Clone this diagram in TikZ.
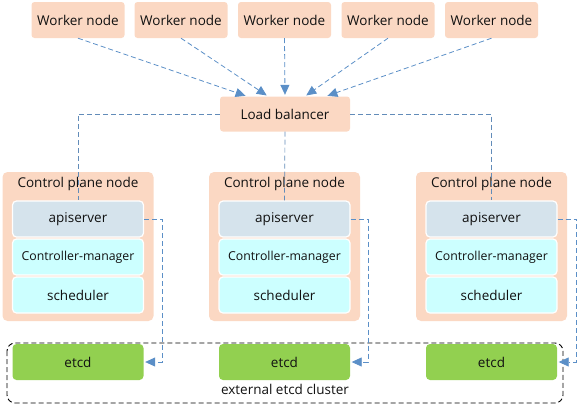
\documentclass[tikz,border=0pt]{standalone}
\usepackage{fontspec}
\setmainfont{Open Sans}
\usetikzlibrary{arrows.meta}
\definecolor{peach}{HTML}{FBD8C3}
\definecolor{apibg}{HTML}{D5E3EC}
\definecolor{cyanbg}{HTML}{CCFFFF}
\definecolor{etcdgreen}{HTML}{92D050}
\definecolor{linkblue}{HTML}{5B8FC7}
\definecolor{txt}{HTML}{111111}
\tikzset{
  worker/.style={fill=peach, rounded corners=3pt, minimum width=93pt, minimum height=36pt, font=\fontsize{13.5}{15}\selectfont, text=txt, inner sep=0pt},
  cpbox/.style={fill=peach, rounded corners=5pt, minimum width=151pt, minimum height=149pt, inner sep=0pt},
  inner/.style={draw=white, line width=1.2pt, rounded corners=4pt, minimum width=131pt, minimum height=36pt, font=\fontsize{13.5}{15}\selectfont, text=txt, inner sep=0pt},
  api/.style={inner, fill=apibg},
  comp/.style={inner, fill=cyanbg},
  etcdbox/.style={fill=etcdgreen, rounded corners=4pt, minimum width=131pt, minimum height=36pt, font=\fontsize{13.5}{15}\selectfont, text=txt, inner sep=0pt},
  link/.style={draw=linkblue, line width=0.8pt, dash pattern=on 5pt off 3pt},
  arr/.style={link, -{Triangle[length=10pt,width=9pt]}, shorten >=1.5pt},
  plain/.style={draw=linkblue!80!gray, line width=0.7pt, dash pattern=on 5pt off 3pt},
  label/.style={font=\fontsize{13.5}{15}\selectfont, text=txt, inner sep=0pt}
}
\begin{document}
\begin{tikzpicture}[x=1pt,y=-1pt]
\useasboundingbox (0,0) rectangle (578,405);
% worker nodes
\node[worker] (w1) at (78,20) {Worker node};
\node[worker] (w2) at (181,20) {Worker node};
\node[worker] (w3) at (284.5,20) {Worker node};
\node[worker] (w4) at (388,20) {Worker node};
\node[worker] (w5) at (491.5,20) {Worker node};
% load balancer
\node[worker, minimum width=130pt, minimum height=35pt] (lb) at (285,114) {Load balancer};
% control planes
\foreach \i/\x in {1/78, 2/284.5, 3/491.5}{
  \node[cpbox] (cp\i) at (\x,246.5) {};
  \node[label] (cpt\i) at (\x,183.5) {Control plane node};
  \node[api] (api\i) at (\x,219) {apiserver};
  \node[comp, font=\fontsize{12.3}{14}\selectfont] (cm\i) at (\x,257) {Controller-manager};
  \node[comp] (sc\i) at (\x,295) {scheduler};
  \node[etcdbox] (etcd\i) at (\x,362) {etcd};
}
% external etcd cluster
\draw[black, line width=0.9pt, dash pattern=on 5pt off 3pt, rounded corners=8pt] (7,343) rectangle (563,403);
\node[label] (ext) at (285,389.5) {external etcd cluster};
% worker -> LB
\draw[arr] (w1.south) -- ([xshift=-38pt]lb.north);
\draw[arr] (w2.south) -- ([xshift=-17pt]lb.north);
\draw[arr] (w3.south) -- (lb.north);
\draw[arr] (w4.south) -- ([xshift=20pt]lb.north);
\draw[arr] (w5.south) -- ([xshift=41pt]lb.north);
% LB -> apiservers
\draw[plain] (lb.west) -| (api1.north);
\draw[plain] (lb.south) -- (api2.north);
\draw[plain] (lb.east) -| (api3.north);
% apiserver -> etcd
\coordinate (c1) at (162,219);
\coordinate (c2) at (368,219);
\coordinate (c3) at (576.5,219);
\draw[arr] (api1.east) -- (c1) |- (etcd1.east);
\draw[arr] (api2.east) -- (c2) |- (etcd2.east);
\draw[arr] (api3.east) -- (c3) |- (etcd3.east);
\end{tikzpicture}
\end{document}
